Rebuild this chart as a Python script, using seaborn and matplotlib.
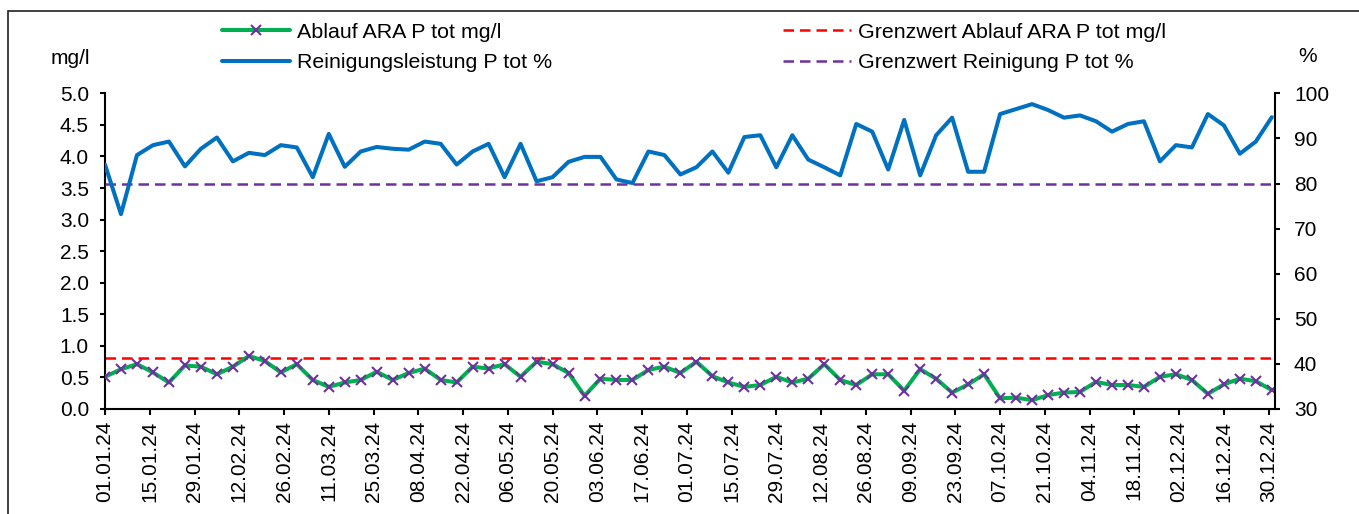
import matplotlib
matplotlib.use("Agg")
import matplotlib.pyplot as plt
import matplotlib.dates as mdates
from matplotlib.ticker import FormatStrFormatter
from matplotlib.lines import Line2D
from matplotlib.patches import Rectangle
import seaborn as sns
import pandas as pd

# ---------------- data ----------------
dates = [
    "01.01.2024", "06.01.2024", "11.01.2024", "16.01.2024", "21.01.2024", "26.01.2024", "31.01.2024",
    "05.02.2024", "10.02.2024", "15.02.2024", "20.02.2024", "25.02.2024",
    "01.03.2024", "06.03.2024", "11.03.2024", "16.03.2024", "21.03.2024", "26.03.2024", "31.03.2024",
    "05.04.2024", "10.04.2024", "15.04.2024", "20.04.2024", "25.04.2024", "30.04.2024",
    "05.05.2024", "10.05.2024", "15.05.2024", "20.05.2024", "25.05.2024", "30.05.2024",
    "04.06.2024", "09.06.2024", "14.06.2024", "19.06.2024", "24.06.2024", "29.06.2024",
    "04.07.2024", "09.07.2024", "14.07.2024", "19.07.2024", "24.07.2024", "29.07.2024",
    "03.08.2024", "08.08.2024", "13.08.2024", "18.08.2024", "23.08.2024", "28.08.2024",
    "02.09.2024", "07.09.2024", "12.09.2024", "17.09.2024", "22.09.2024", "27.09.2024",
    "02.10.2024", "07.10.2024", "12.10.2024", "17.10.2024", "22.10.2024", "27.10.2024",
    "01.11.2024", "06.11.2024", "11.11.2024", "16.11.2024", "21.11.2024", "26.11.2024",
    "01.12.2024", "06.12.2024", "11.12.2024", "16.12.2024", "21.12.2024", "26.12.2024", "31.12.2024",
]

ablauf_mg = [
    0.51, 0.63, 0.71, 0.58, 0.42, 0.69, 0.67, 0.55, 0.67, 0.84,
    0.76, 0.58, 0.71, 0.46, 0.35, 0.42, 0.46, 0.59, 0.46, 0.57,
    0.64, 0.46, 0.42, 0.67, 0.64, 0.71, 0.51, 0.75, 0.71, 0.57,
    0.21, 0.48, 0.46, 0.46, 0.62, 0.67, 0.57, 0.75, 0.52, 0.42,
    0.35, 0.38, 0.51, 0.42, 0.48, 0.71, 0.46, 0.38, 0.55, 0.55,
    0.29, 0.63, 0.48, 0.26, 0.39, 0.55, 0.17, 0.18, 0.14, 0.22,
    0.26, 0.27, 0.43, 0.38, 0.38, 0.35, 0.51, 0.55, 0.46, 0.24,
    0.39, 0.48, 0.44, 0.30,
]

reinigung_pct = [
    84.2, 73.2, 86.3, 88.5, 89.3, 83.8, 87.7, 90.2, 84.9, 86.8,
    86.3, 88.5, 88.0, 81.4, 91.0, 83.7, 87.1, 88.1, 87.7, 87.5,
    89.3, 88.8, 84.2, 87.1, 88.8, 81.4, 88.8, 80.5, 81.4, 84.8,
    85.9, 85.9, 80.9, 80.1, 87.1, 86.3, 82.0, 83.6, 87.1, 82.4,
    90.3, 90.7, 83.6, 90.7, 85.3, 83.6, 81.8, 93.2, 91.5, 83.1,
    94.1, 81.8, 90.7, 94.6, 82.6, 82.6, 95.4, 96.5, 97.6, 96.3,
    94.6, 95.1, 93.8, 91.5, 93.2, 93.8, 84.9, 88.5, 88.0, 95.4,
    92.9, 86.6, 89.3, 94.7,
]

grenz_ablauf_mg = 0.8
grenz_reinigung_pct = 80

series_labels = [
    "Ablauf ARA P tot mg/l",
    "Reinigungsleistung P tot %",
    "Grenzwert Ablauf ARA P tot mg/l",
    "Grenzwert Reinigung P tot %",
]
xtick_dates = pd.date_range("2024-01-01", "2024-12-30", freq="14D")
left_ticks = [0.0, 0.5, 1.0, 1.5, 2.0, 2.5, 3.0, 3.5, 4.0, 4.5, 5.0]
right_ticks = [30, 40, 50, 60, 70, 80, 90, 100]

# ---------------- style ----------------
GREEN = "#00B050"
BLUE = "#0070C0"
RED = "#FF0000"
PURPLE = "#7030A0"
FS = 15
FS_LEG = 15.4

sns.set_theme(style="ticks")
plt.rcParams["font.family"] = ["Liberation Sans", "DejaVu Sans"]

W, H = 1359, 514
fig = plt.figure(figsize=(W / 100, H / 100), dpi=100)
fig.patch.set_facecolor("white")
ax = fig.add_axes([105 / W, 1 - 409 / H, (1275 - 105) / W, (409 - 93.3) / H])
ax2 = ax.twinx()

df = pd.DataFrame({
    "Datum": pd.to_datetime(dates, format="%d.%m.%Y"),
    "Ablauf": ablauf_mg,
    "Reinigung": reinigung_pct,
})

dash = (0, (4.2, 2.4))
ax.axhline(grenz_ablauf_mg, color=RED, lw=1.8, linestyle=dash, zorder=2)
sns.lineplot(data=df, x="Datum", y="Ablauf", ax=ax, color=GREEN, lw=2.9,
             marker="x", markersize=7.5, markeredgecolor=PURPLE,
             markeredgewidth=1.5, zorder=3)

ax2.axhline(grenz_reinigung_pct, color=PURPLE, lw=1.8, linestyle=dash, zorder=2)
sns.lineplot(data=df, x="Datum", y="Reinigung", ax=ax2, color=BLUE, lw=2.9, zorder=3)

# axes limits / ticks
ax.set_xlim(pd.Timestamp("2024-01-01"), pd.Timestamp("2025-01-01"))
ax.set_ylim(0, 5)
ax2.set_ylim(30, 100)
ax.set_yticks(left_ticks)
ax.yaxis.set_major_formatter(FormatStrFormatter("%.1f"))
ax2.set_yticks(right_ticks)
ax.set_xticks(xtick_dates)
ax.xaxis.set_major_formatter(mdates.DateFormatter("%d.%m.%y"))
for lab in ax.get_xticklabels():
    lab.set_rotation(90)

ax.set_xlabel("")
ax.set_ylabel("")
ax2.set_xlabel("")
ax2.set_ylabel("")

ax.tick_params(axis="y", direction="out", length=3.6, width=1.5, labelsize=FS, pad=8, colors="black")
ax.tick_params(axis="x", direction="out", length=4.5, width=1.5, labelsize=FS, pad=4, colors="black")
ax2.tick_params(axis="y", direction="out", length=3.6, width=1.5, labelsize=FS, pad=10, colors="black")

for s in ["top", "right"]:
    ax.spines[s].set_visible(False)
for s in ["top", "left", "bottom"]:
    ax2.spines[s].set_visible(False)
for s in ["left", "bottom"]:
    ax.spines[s].set_linewidth(1.5)
    ax.spines[s].set_color("black")
ax2.spines["right"].set_linewidth(1.5)
ax2.spines["right"].set_color("black")
ax2.patch.set_visible(False)

# unit labels
fig.text(70 / W, 1 - 58 / H, "mg/l", ha="center", va="center", fontsize=FS, color="black")
fig.text(1308 / W, 1 - 57 / H, "%", ha="center", va="center", fontsize=FS, color="black")

# legends
h_ablauf = Line2D([], [], color=GREEN, lw=2.9, marker="x", markersize=7.5,
                  markeredgecolor=PURPLE, markeredgewidth=1.5)
h_rein = Line2D([], [], color=BLUE, lw=2.9)
h_gr_ab = Line2D([], [], color=RED, lw=1.8, linestyle=dash)
h_gr_re = Line2D([], [], color=PURPLE, lw=1.8, linestyle=dash)

common = dict(loc="center left", frameon=False, fontsize=FS_LEG, borderpad=0,
              borderaxespad=0, handlelength=3.2, handletextpad=0.3,
              labelspacing=0.55, numpoints=1)
leg1 = fig.legend([h_ablauf, h_rein], series_labels[:2],
                  bbox_to_anchor=(222 / W, 1 - 47.5 / H), **common)
leg2 = fig.legend([h_gr_ab, h_gr_re], series_labels[2:],
                  bbox_to_anchor=(783 / W, 1 - 47.5 / H), **common)
for leg in (leg1, leg2):
    for t in leg.get_texts():
        t.set_color("black")

# chart border
fig.add_artist(Rectangle((8 / W, -0.5), 2.0, 0.5 + 1 - 11 / H,
                         transform=fig.transFigure, fill=False,
                         edgecolor="#202020", lw=1.2))

fig.savefig("out.png", dpi=100, facecolor="white")
